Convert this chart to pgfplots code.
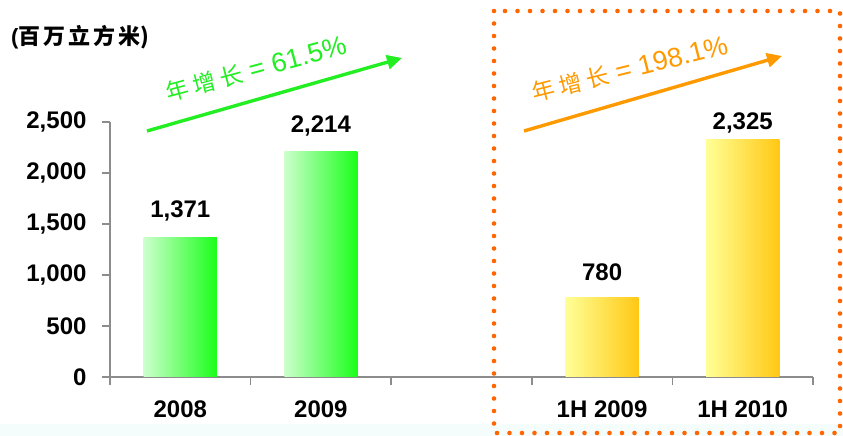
\documentclass[border=0pt]{standalone}
\usepackage{fontspec}
\setmainfont{Liberation Sans}
\newfontfamily\cjk{Noto Sans CJK SC}
\usepackage{pgfplots}
\pgfplotsset{compat=1.18}
\usetikzlibrary{arrows.meta}
\definecolor{gL}{RGB}{204,255,204}
\definecolor{gR}{RGB}{26,255,26}
\definecolor{yL}{RGB}{255,255,150}
\definecolor{yR}{RGB}{255,200,20}
\definecolor{arrG}{RGB}{34,238,34}
\definecolor{arrO}{RGB}{255,153,0}
\definecolor{boxO}{RGB}{255,102,0}
\definecolor{axg}{RGB}{140,140,140}
\definecolor{band}{RGB}{245,252,252}
\begin{document}
\begin{tikzpicture}
\begin{scope}[x=1pt,y=1pt]
\path[use as bounding box] (0,0) rectangle (843,436);
\fill[band] (0,0) rectangle (843,12);
\end{scope}
\begin{axis}[
  at={(110pt,59pt)}, anchor=south west,
  scale only axis, width=703pt, height=255pt,
  xmin=-0.5, xmax=4.5, ymin=0, ymax=2500,
  axis x line*=bottom, axis y line*=left,
  axis line style={draw=axg, line width=1.6pt, -},
  xtick={0,1,3,4}, xticklabels={2008,2009,1H 2009,1H 2010},
  minor xtick={-0.5,0.5,1.5,2.5,3.5,4.5},
  major x tick style={draw=none},
  minor x tick style={draw=axg, line width=1.6pt},
  y tick style={draw=axg, line width=1.6pt},
  ytick={0,500,1000,1500,2000,2500},
  tick align=outside,
  major tick length=8pt, minor tick length=8pt,
  /pgf/number format/.cd, 1000 sep={,}, assume math mode=true,
  /pgfplots/.cd,
  tick label style={font=\bfseries\fontsize{24}{24}\selectfont},
  yticklabel style={xshift=-12pt},
  xticklabel style={yshift=-12pt},
  clip=false,
]
\addplot[ybar, bar width=0.52, bar shift=0pt, draw=none, left color=gL, right color=gR]
  coordinates {(0,1371)};
\addplot[ybar, bar width=0.52, bar shift=0pt, draw=none, left color=gL, right color=gR]
  coordinates {(1,2214)};
\addplot[ybar, bar width=0.52, bar shift=0pt, draw=none, left color=yL, right color=yR]
  coordinates {(3,780)};
\addplot[ybar, bar width=0.52, bar shift=0pt, draw=none, left color=yL, right color=yR]
  coordinates {(4,2325)};
\addplot[draw=none, mark=none, nodes near coords,
  visualization depends on={\thisrow{off} \as \myoff},
  every node near coord/.append style={anchor=base, yshift=\myoff pt, inner sep=0pt,
    font=\bfseries\fontsize{24}{24}\selectfont, text=black}]
  table[x=x, y=y] {
x y off
0 1371 20
1 2214 19
3 780 17
4 2325 10
};
\end{axis}
\begin{scope}[x=1pt,y=1pt]
\node[anchor=west, inner sep=0pt, font=\bfseries\fontsize{22}{22}\selectfont] at (11,399)
  {(\cjk 百\hspace{3pt}万\hspace{3pt}立\hspace{3pt}方\hspace{3pt}米\/)};
\draw[arrG, line width=3.4pt, -{Triangle[length=15pt,width=14pt]}] (147,305) -- (402,378);
\draw[arrO, line width=3.4pt, -{Triangle[length=15pt,width=14pt]}] (524,305) -- (782,380);
\node[anchor=base west, rotate=15, inner sep=0pt, text=arrG, font=\fontsize{27}{27}\selectfont] at (168,334)
  {{\cjk\fontsize{23}{23}\selectfont 年\hspace{5pt}增\hspace{5pt}长} = 61.5\%};
\node[anchor=base west, rotate=14, inner sep=0pt, text=arrO, font=\fontsize{27}{27}\selectfont] at (534,334)
  {{\cjk\fontsize{23}{23}\selectfont 年\hspace{5pt}增\hspace{5pt}长} = 198.1\%};
\draw[boxO, line width=4.6pt, line cap=round, dash pattern=on 0pt off 12.5pt]
  (494,425) rectangle (840,3);
\end{scope}
\end{tikzpicture}
\end{document}
